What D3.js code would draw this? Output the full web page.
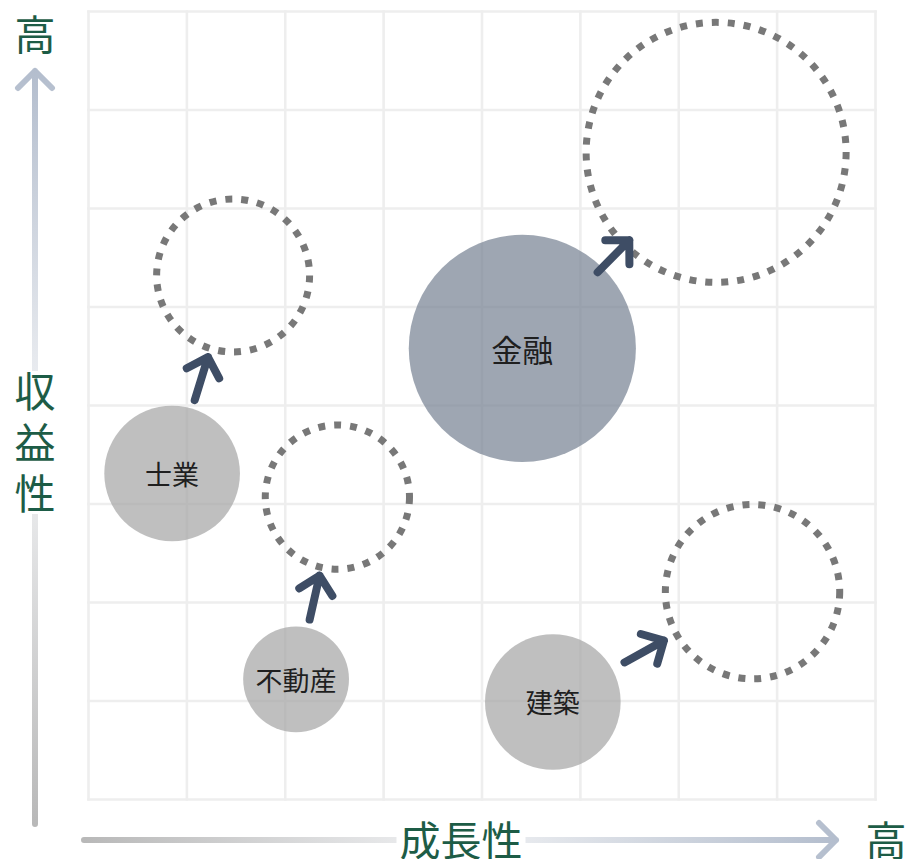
<!DOCTYPE html>
<html lang="ja">
<head>
<meta charset="utf-8">
<script src="https://cdn.jsdelivr.net/npm/d3@7"></script>
<style>
  html, body { margin: 0; padding: 0; background: #ffffff; }
  svg { display: block; }
  text { font-family: "Noto Sans CJK JP", "Noto Sans", sans-serif; }
</style>
</head>
<body>
<svg id="chart" width="908" height="859"></svg>
<script>
// Industries: current position (growth, profitability, size) and where each is headed
const industries   = ["士業", "不動産", "金融", "建築"];
const growthNow    = [0.85, 2.11, 4.41, 4.72];
const profitNow    = [3.31, 1.22, 4.58, 0.99];
const sizeNow      = [46, 28, 129, 46];
const growthNext   = [1.47, 2.53, 6.38, 6.75];
const profitNext   = [5.32, 3.07, 6.57, 2.11];
const sizeNext     = [58.5, 52, 169, 76];
const highlighted  = ["金融"];

// Axis captions
const xAxisTitle = "成長性";
const yAxisTitle = "収益性";
const highLabel  = "高";
const gridTicks  = d3.range(0, 9);

const svg = d3.select("#chart");

const x = d3.scaleLinear().domain([0, 8]).range([88.5, 875.5]);
const y = d3.scaleLinear().domain([0, 8]).range([799.5, 11.5]);
const r = d3.scaleSqrt().domain([0, 200]).range([0, 141.42]);

const green = "#1d5c46";

// ---- gradients for the two axis arrows
const defs = svg.append("defs");
const gy = defs.append("linearGradient").attr("id", "gradY")
  .attr("gradientUnits", "userSpaceOnUse")
  .attr("x1", 0).attr("y1", 826).attr("x2", 0).attr("y2", 68);
gy.append("stop").attr("offset", "0%").attr("stop-color", "#b8b8b8");
gy.append("stop").attr("offset", "52%").attr("stop-color", "#f3f4f6");
gy.append("stop").attr("offset", "100%").attr("stop-color", "#b3bdcd");

const gx = defs.append("linearGradient").attr("id", "gradX")
  .attr("gradientUnits", "userSpaceOnUse")
  .attr("x1", 82).attr("y1", 0).attr("x2", 840).attr("y2", 0);
gx.append("stop").attr("offset", "0%").attr("stop-color", "#b8b8b8");
gx.append("stop").attr("offset", "50%").attr("stop-color", "#f1f2f4");
gx.append("stop").attr("offset", "100%").attr("stop-color", "#b3bdcd");

// ---- grid
const grid = svg.append("g").attr("class", "grid")
  .attr("stroke", "#eeeeee").attr("stroke-width", 2.6);
grid.selectAll("line.v").data(gridTicks).join("line").attr("class", "v")
  .attr("x1", d => x(d)).attr("x2", d => x(d))
  .attr("y1", y(8) - 1.3).attr("y2", y(0) + 1.3);
grid.selectAll("line.h").data(gridTicks).join("line").attr("class", "h")
  .attr("y1", d => y(d)).attr("y2", d => y(d))
  .attr("x1", x(0) - 1.3).attr("x2", x(8) + 1.3);

// ---- axis arrows
const ax = svg.append("g").attr("fill", "none")
  .attr("stroke-width", 6).attr("stroke-linecap", "round").attr("stroke-linejoin", "round");
ax.append("path").attr("stroke", "url(#gradY)")
  .attr("d", "M35,824 L35,71 M18,88 L35,71 L52,88");
ax.append("path").attr("stroke", "url(#gradX)")
  .attr("d", "M84,840 L836,840 M819,823 L836,840 L819,857");

// ---- axis labels, each on a white backing where it crosses its arrow
const xt = svg.append("g");
const xtText = xt.append("text").attr("x", 461).attr("y", 838)
  .attr("text-anchor", "middle").attr("dominant-baseline", "central")
  .attr("font-size", 41).attr("fill", green).text(xAxisTitle);
{
  const bb = xtText.node().getBBox();
  xt.insert("rect", "text").attr("x", bb.x - 3).attr("y", 830)
    .attr("width", bb.width + 6).attr("height", 18).attr("fill", "#ffffff");
}

const yt = svg.append("g");
yt.append("rect").attr("x", 28).attr("y", 371).attr("width", 14).attr("height", 143)
  .attr("fill", "#ffffff");
yt.append("text").attr("x", 35).attr("y", 371)
  .style("writing-mode", "vertical-rl")
  .attr("text-anchor", "start").attr("dominant-baseline", "central")
  .attr("letter-spacing", 10)
  .attr("font-size", 41).attr("fill", green).text(yAxisTitle);

svg.append("text").attr("x", 35).attr("y", 32)
  .attr("text-anchor", "middle").attr("dominant-baseline", "central")
  .attr("font-size", 41).attr("fill", green).text(highLabel);
svg.append("text").attr("x", 886).attr("y", 838)
  .attr("text-anchor", "middle").attr("dominant-baseline", "central")
  .attr("font-size", 41).attr("fill", green).text(highLabel);

// ---- bubbles
const rows = industries.map((name, i) => ({
  name,
  cx: x(growthNow[i]), cy: y(profitNow[i]), r: r(sizeNow[i]),
  tx: x(growthNext[i]), ty: y(profitNext[i]), tr: r(sizeNext[i]),
  hi: highlighted.includes(name)
}));

svg.append("g").selectAll("circle").data(rows).join("circle")
  .attr("cx", d => d.cx).attr("cy", d => d.cy).attr("r", d => d.r)
  .attr("fill", d => d.hi ? "#788394" : "#a6a6a6")
  .attr("fill-opacity", 0.72);

svg.append("g").selectAll("circle").data(rows).join("circle")
  .attr("cx", d => d.tx).attr("cy", d => d.ty).attr("r", d => d.tr)
  .attr("fill", "none").attr("stroke", "#787878")
  .attr("stroke-width", 7).attr("stroke-dasharray", "7 9");

// ---- movement arrows, centred in the gap between the two circles
const arrowLen = 45, wingLen = 24, wingAng = Math.PI / 4;
function arrowPath(d) {
  const dx = d.tx - d.cx, dy = d.ty - d.cy;
  const dist = Math.hypot(dx, dy);
  const ux = dx / dist, uy = dy / dist;
  const mid = d.r + (dist - d.r - d.tr) / 2;
  const t0 = mid - arrowLen / 2, t1 = mid + arrowLen / 2;
  const ax0 = d.cx + ux * t0, ay0 = d.cy + uy * t0;
  const ax1 = d.cx + ux * t1, ay1 = d.cy + uy * t1;
  const back = Math.atan2(-uy, -ux);
  const w1 = [ax1 + wingLen * Math.cos(back + wingAng), ay1 + wingLen * Math.sin(back + wingAng)];
  const w2 = [ax1 + wingLen * Math.cos(back - wingAng), ay1 + wingLen * Math.sin(back - wingAng)];
  const p = d3.path();
  p.moveTo(ax0, ay0); p.lineTo(ax1, ay1);
  p.moveTo(w1[0], w1[1]); p.lineTo(ax1, ay1); p.lineTo(w2[0], w2[1]);
  return p.toString();
}
svg.append("g").selectAll("path").data(rows).join("path")
  .attr("d", arrowPath)
  .attr("fill", "none").attr("stroke", "#3e4d65").attr("stroke-width", 8)
  .attr("stroke-linecap", "round").attr("stroke-linejoin", "round");

// ---- bubble names
svg.append("g").selectAll("text").data(rows).join("text")
  .attr("x", d => d.cx).attr("y", d => d.cy)
  .attr("text-anchor", "middle").attr("dominant-baseline", "central")
  .attr("font-size", d => d.hi ? 31 : 27).attr("fill", "#1f1f1f")
  .text(d => d.name);
</script>
</body>
</html>
